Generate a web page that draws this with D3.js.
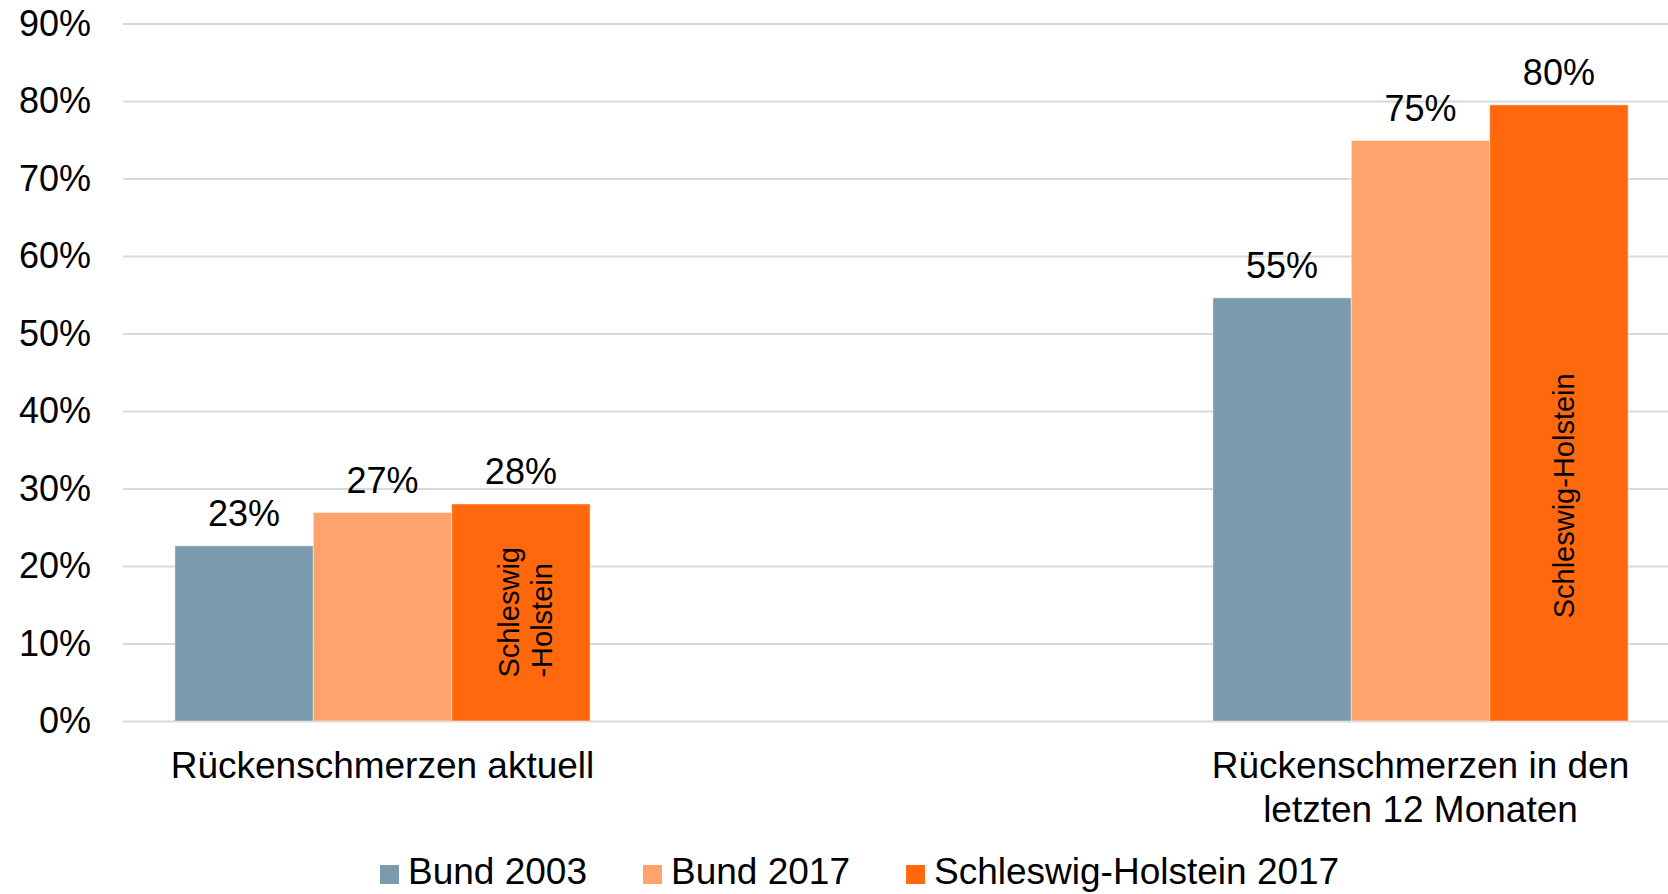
<!DOCTYPE html>
<html>
<head>
<meta charset="utf-8">
<script src="https://cdnjs.cloudflare.com/ajax/libs/d3/7.8.5/d3.min.js"></script>
<style>
    body { margin: 0; background: #fff; }
    text { font-family: "Liberation Sans", Arial, Helvetica, sans-serif; fill: #000; }
</style>
</head>
<body>
<div id="chart"></div>
<script>
//chart data
var categories = ["Rückenschmerzen aktuell", "Rückenschmerzen in den letzten 12 Monaten"];
var categoryLines = [["Rückenschmerzen aktuell"], ["Rückenschmerzen in den", "letzten 12 Monaten"]];
var series = ["Bund 2003", "Bund 2017", "Schleswig-Holstein 2017"];
var colors = ["#7b9aab", "#fda36b", "#ff680c"];
var bund2003 = [0.226, 0.546];
var bund2017 = [0.269, 0.749];
var sh2017 = [0.280, 0.795];
var yTicks = [0, 0.1, 0.2, 0.3, 0.4, 0.5, 0.6, 0.7, 0.8, 0.9];

//text written inside the orange bars (lines, start value on y axis)
var barNotes = [
    {lines: ["Schleswig", "-Holstein"], at: 0.056},
    {lines: ["Schleswig-Holstein"], at: 0.1325}
];

var values = [bund2003, bund2017, sh2017];
var data = categories.map((c, i) => ({
    category: c,
    bars: series.map((s, j) => ({series: s, value: values[j][i]}))
}));

//Set up the dimensions
var width = 1668;
var height = 894;

var svg = d3.select("#chart")
    .append("svg")
    .attr("width", width)
    .attr("height", height);

//scales
var y = d3.scaleLinear()
    .domain([0, 0.9])
    .range([721, 23.5]);

var x0 = d3.scaleBand()
    .domain(categories)
    .range([123, 1680])
    .paddingInner(0.6)
    .paddingOuter(0.05);

var x1 = d3.scaleBand()
    .domain(series)
    .range([0, x0.bandwidth()]);

var color = d3.scaleOrdinal()
    .domain(series)
    .range(colors);

//gridlines and y tick labels
var yAxis = svg.append("g")
    .attr("transform", "translate(123,0)")
    .call(d3.axisLeft(y)
        .tickValues(yTicks)
        .tickFormat(d3.format(".0%"))
        .tickSize(-(width - 123))
        .tickPadding(32));

yAxis.select(".domain").remove();
yAxis.selectAll(".tick line")
    .attr("stroke", "#d9d9d9")
    .attr("stroke-width", 2);
yAxis.selectAll(".tick text")
    .style("font-size", "36px")
    .attr("fill", "#000");

//bars
var groups = svg.append("g")
    .selectAll("g")
    .data(data)
    .enter()
    .append("g")
    .attr("transform", (d) => "translate(" + x0(d.category) + ",0)");

groups.selectAll("rect")
    .data((d) => d.bars)
    .enter()
    .append("rect")
    .attr("x", (d) => x1(d.series))
    .attr("y", (d) => y(d.value))
    .attr("width", x1.bandwidth())
    .attr("height", (d) => y(0) - y(d.value))
    .attr("fill", (d) => color(d.series))
    .attr("stroke", "rgba(255,255,255,0.45)")
    .attr("stroke-width", 1);

//value labels
groups.selectAll(".value")
    .data((d) => d.bars)
    .enter()
    .append("text")
    .attr("class", "value")
    .attr("x", (d) => x1(d.series) + x1.bandwidth() / 2)
    .attr("y", (d) => y(d.value) - 20)
    .style("text-anchor", "middle")
    .style("font-size", "36px")
    .text((d) => Math.round(d.value * 100) + "%");

//rotated notes in the last bar of each group
groups.each(function(d, i) {
    var note = barNotes[i];
    var cx = x0(d.category) + x1(series[2]) + x1.bandwidth() / 2;
    var lineGap = 33;
    note.lines.forEach((line, k) => {
        var bx = cx + 15 - (note.lines.length - 1) * lineGap / 2 + k * lineGap;
        svg.append("text")
            .attr("transform", "translate(" + bx + "," + y(note.at) + ") rotate(-90)")
            .style("font-size", "29px")
            .style("text-anchor", "start")
            .text(line);
    });
});

//category labels
categories.forEach((c, i) => {
    var t = svg.append("text")
        .attr("x", x0(c) + x0.bandwidth() / 2)
        .attr("y", 778)
        .style("text-anchor", "middle")
        .style("font-size", "37px");
    categoryLines[i].forEach((line, k) => {
        t.append("tspan")
            .attr("x", x0(c) + x0.bandwidth() / 2)
            .attr("dy", k == 0 ? 0 : 43.5)
            .text(line);
    });
});

//legend
var legend = svg.append("g");
var lx = 380;
series.forEach((s, i) => {
    legend.append("rect")
        .attr("x", lx)
        .attr("y", 865)
        .attr("width", 19)
        .attr("height", 19)
        .attr("fill", color(s));
    var label = legend.append("text")
        .attr("x", lx + 28)
        .attr("y", 884)
        .style("font-size", "37px")
        .text(s);
    lx += 28 + label.node().getComputedTextLength() + 56;
});
</script>
</body>
</html>
